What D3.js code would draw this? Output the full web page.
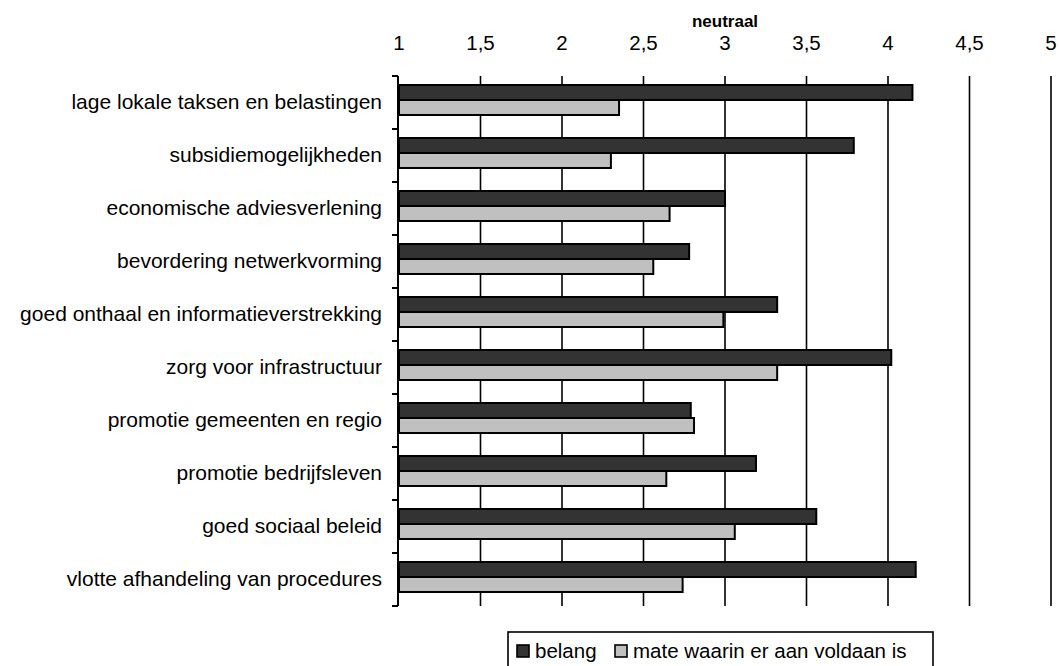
<!DOCTYPE html>
<html>
<head>
<meta charset="utf-8">
<script src="https://cdn.jsdelivr.net/npm/d3@7"></script>
<style>
  html, body { margin: 0; padding: 0; background: #fff; }
  svg { display: block; }
  text { font-family: "Liberation Sans", Arial, sans-serif; fill: #000; }
</style>
</head>
<body>
<svg id="chart" width="1060" height="666"></svg>
<script>
// Beoordeling van gemeentelijke dienstverlening (schaal 1-5)
const categories = [
  "lage lokale taksen en belastingen",
  "subsidiemogelijkheden",
  "economische adviesverlening",
  "bevordering netwerkvorming",
  "goed onthaal en informatieverstrekking",
  "zorg voor infrastructuur",
  "promotie gemeenten en regio",
  "promotie bedrijfsleven",
  "goed sociaal beleid",
  "vlotte afhandeling van procedures"
];
const belang = [4.15, 3.79, 3.00, 2.78, 3.32, 4.02, 2.79, 3.19, 3.56, 4.17];
const mateVoldaan = [2.35, 2.30, 2.66, 2.56, 2.99, 3.32, 2.81, 2.64, 3.06, 2.74];
const seriesNames = ["belang", "mate waarin er aan voldaan is"];
const seriesColors = ["#333333", "#c0c0c0"];
const tickValues = [1, 1.5, 2, 2.5, 3, 3.5, 4, 4.5, 5];
const axisTitle = "neutraal";

const svg = d3.select("#chart");

const x = d3.scaleLinear().domain([1, 5]).range([399, 1051]);
const y = d3.scaleBand().domain(categories).range([76, 606]);
const ySub = d3.scaleBand().domain(seriesNames).range([9, 39]);
const color = d3.scaleOrdinal().domain(seriesNames).range(seriesColors);

const fmt = v => String(v).replace(".", ",");

// vertical gridlines
svg.append("g")
  .selectAll("line")
  .data(tickValues.filter(v => v > 1))
  .join("line")
  .attr("x1", d => x(d)).attr("x2", d => x(d))
  .attr("y1", y.range()[0]).attr("y2", y.range()[1])
  .attr("stroke", "#000").attr("stroke-width", 1.6);

// top value axis labels
const topAxis = svg.append("g").attr("transform", "translate(0,50)");
topAxis.selectAll("text")
  .data(tickValues)
  .join("text")
  .attr("x", d => x(d))
  .attr("text-anchor", "middle")
  .attr("font-size", "20.5px")
  .text(fmt);

svg.append("text")
  .attr("x", x(3))
  .attr("y", 27)
  .attr("text-anchor", "middle")
  .attr("font-size", "17px")
  .attr("font-weight", "bold")
  .text(axisTitle);

// bars
const rows = categories.map((c, i) => ({
  cat: c,
  vals: [
    { s: seriesNames[0], v: belang[i] },
    { s: seriesNames[1], v: mateVoldaan[i] }
  ]
}));

const groups = svg.append("g")
  .selectAll("g")
  .data(rows)
  .join("g")
  .attr("transform", d => `translate(0,${y(d.cat)})`);

groups.selectAll("rect")
  .data(d => d.vals)
  .join("rect")
  .attr("x", x(1))
  .attr("y", d => ySub(d.s))
  .attr("width", d => x(d.v) - x(1))
  .attr("height", ySub.bandwidth())
  .attr("fill", d => color(d.s))
  .attr("stroke", "#000")
  .attr("stroke-width", 2);

// category axis
const axisX = 398;
svg.append("line")
  .attr("x1", axisX).attr("x2", axisX)
  .attr("y1", y.range()[0]).attr("y2", y.range()[1])
  .attr("stroke", "#000").attr("stroke-width", 2);

const bounds = categories.map(c => y(c)).concat([y.range()[1]]);
svg.append("g")
  .selectAll("line")
  .data(bounds)
  .join("line")
  .attr("x1", axisX - 6).attr("x2", axisX)
  .attr("y1", d => d).attr("y2", d => d)
  .attr("stroke", "#000").attr("stroke-width", 2);

svg.append("g")
  .selectAll("text")
  .data(categories)
  .join("text")
  .attr("x", 382)
  .attr("y", d => y(d) + y.bandwidth() / 2 + 6)
  .attr("text-anchor", "end")
  .attr("font-size", "21px")
  .text(d => d);

// legend
const legend = svg.append("g");
legend.append("rect")
  .attr("x", 508).attr("y", 632)
  .attr("width", 425).attr("height", 44)
  .attr("fill", "#fff")
  .attr("stroke", "#000").attr("stroke-width", 1.6);

const legendPos = [517, 615];
const legendItems = legend.selectAll("g.item")
  .data(seriesNames)
  .join("g")
  .attr("class", "item")
  .attr("transform", (d, i) => `translate(${legendPos[i]},645)`);

legendItems.append("rect")
  .attr("x", 0).attr("y", 0)
  .attr("width", 12).attr("height", 12)
  .attr("fill", d => color(d))
  .attr("stroke", "#000").attr("stroke-width", 1.6);

legendItems.append("text")
  .attr("x", 18).attr("y", 13)
  .attr("font-size", "20.5px")
  .text(d => d);
</script>
</body>
</html>
